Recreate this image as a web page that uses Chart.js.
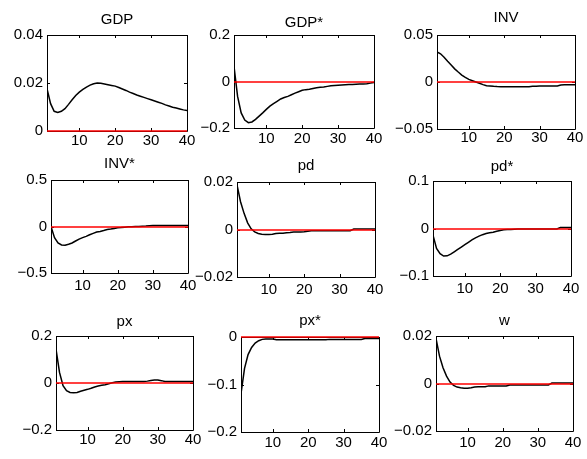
<!DOCTYPE html>
<html>
<head>
<meta charset="utf-8">
<script src="https://cdn.jsdelivr.net/npm/chart.js@4/dist/chart.umd.min.js"></script>
<style>
  body { margin: 0; background: #fff; }
  #grid { position: relative; width: 587px; height: 459px; overflow: hidden; }
  #grid canvas { position: absolute; }
</style>
</head>
<body>
<div id="grid"></div>
<script>
// horizon (quarters after the shock)
const periods = [1, 2, 3, 4, 5, 6, 7, 8, 9, 10, 11, 12, 13, 14, 15, 16, 17, 18, 19, 20,
                 21, 22, 23, 24, 25, 26, 27, 28, 29, 30, 31, 32, 33, 34, 35, 36, 37, 38, 39, 40];

const titles = ['GDP', 'GDP*', 'INV', 'INV*', 'pd', 'pd*', 'px', 'px*', 'w'];

// impulse responses
const gdp = [0.0176, 0.0114, 0.0082, 0.0077, 0.0082, 0.0093, 0.0111, 0.0130, 0.0148, 0.0162,
             0.0173, 0.0183, 0.0191, 0.0197, 0.0200, 0.0199, 0.0196, 0.0193, 0.0190, 0.0187,
             0.0181, 0.0175, 0.0169, 0.0162, 0.0156, 0.0150, 0.0145, 0.0140, 0.0135, 0.0130,
             0.0125, 0.0120, 0.0115, 0.0109, 0.0104, 0.0099, 0.0096, 0.0092, 0.0088, 0.0085];
const gdpStar = [0.065, -0.064, -0.135, -0.166, -0.177, -0.174, -0.163, -0.149, -0.135, -0.120,
                 -0.106, -0.095, -0.085, -0.075, -0.069, -0.064, -0.057, -0.050, -0.044, -0.038,
                 -0.035, -0.033, -0.030, -0.027, -0.025, -0.024, -0.021, -0.018, -0.017, -0.016,
                 -0.015, -0.014, -0.013, -0.013, -0.012, -0.011, -0.011, -0.010, -0.007, -0.004];
const inv = [0.0320, 0.0300, 0.0264, 0.0220, 0.0180, 0.0140, 0.0106, 0.0074, 0.0049, 0.0028,
             0.0014, 0.0000, -0.0014, -0.0028, -0.0039, -0.0042, -0.0046, -0.0049, -0.0050, -0.0050,
             -0.0050, -0.0050, -0.0050, -0.0050, -0.0050, -0.0050, -0.0050, -0.0046, -0.0044, -0.0042,
             -0.0042, -0.0042, -0.0042, -0.0042, -0.0042, -0.0032, -0.0030, -0.0030, -0.0030, -0.0030];
const invStar = [0.000, -0.120, -0.177, -0.199, -0.202, -0.190, -0.177, -0.156, -0.135, -0.120,
                 -0.106, -0.089, -0.074, -0.060, -0.053, -0.043, -0.032, -0.028, -0.021, -0.014,
                 -0.011, -0.007, -0.004, -0.002, 0.000, 0.001, 0.003, 0.005, 0.008, 0.010,
                 0.010, 0.010, 0.010, 0.010, 0.010, 0.010, 0.010, 0.010, 0.010, 0.010];
const pd = [0.0188, 0.0117, 0.0068, 0.0028, 0.0003, -0.0010, -0.0017, -0.0020, -0.0021, -0.0021,
            -0.0020, -0.0017, -0.0016, -0.0016, -0.0014, -0.0013, -0.0011, -0.0010, -0.0010, -0.0009,
            -0.0007, -0.0005, -0.0005, -0.0005, -0.0005, -0.0005, -0.0005, -0.0005, -0.0005, -0.0005,
            -0.0005, -0.0005, -0.0005, 0.0002, 0.0002, 0.0002, 0.0002, 0.0002, 0.0002, 0.0002];
const pdStar = [-0.0140, -0.0420, -0.0530, -0.0580, -0.0575, -0.0540, -0.0490, -0.0440, -0.0390, -0.0340,
                -0.0290, -0.0240, -0.0196, -0.0160, -0.0130, -0.0105, -0.0090, -0.0077, -0.0056, -0.0042,
                -0.0028, -0.0020, -0.0020, -0.0015, -0.0010, -0.0010, -0.0010, -0.0010, -0.0010, -0.0010,
                -0.0010, -0.0010, -0.0010, -0.0010, -0.0010, -0.0010, 0.0020, 0.0020, 0.0020, 0.0020];
const px = [0.1440, 0.0450, -0.0110, -0.0325, -0.0400, -0.0410, -0.0400, -0.0350, -0.0310, -0.0270,
            -0.0226, -0.0170, -0.0127, -0.0100, -0.0070, -0.0030, 0.0014, 0.0040, 0.0057, 0.0060,
            0.0060, 0.0060, 0.0060, 0.0060, 0.0060, 0.0060, 0.0080, 0.0110, 0.0127, 0.0127,
            0.0100, 0.0060, 0.0060, 0.0060, 0.0060, 0.0060, 0.0060, 0.0060, 0.0060, 0.0060];
const pxStar = [-0.1190, -0.0660, -0.0370, -0.0220, -0.0127, -0.0078, -0.0050, -0.0040, -0.0040, -0.0040,
                -0.0057, -0.0057, -0.0057, -0.0057, -0.0057, -0.0057, -0.0057, -0.0057, -0.0057, -0.0057,
                -0.0057, -0.0057, -0.0057, -0.0057, -0.0057, -0.0050, -0.0050, -0.0050, -0.0050, -0.0050,
                -0.0050, -0.0050, -0.0050, -0.0050, -0.0050, -0.0030, -0.0030, -0.0030, -0.0030, -0.0030];
const w = [0.0190, 0.0115, 0.0066, 0.0031, 0.0006, -0.0008, -0.0015, -0.0018, -0.0020, -0.0020,
           -0.0018, -0.0015, -0.0014, -0.0014, -0.0014, -0.0010, -0.0010, -0.0010, -0.0010, -0.0010,
           -0.0010, -0.0006, -0.0006, -0.0006, -0.0006, -0.0006, -0.0006, -0.0006, -0.0006, -0.0006,
           -0.0006, -0.0006, -0.0006, 0.0002, 0.0002, 0.0002, 0.0002, 0.0002, 0.0002, 0.0002];

const responses = [gdp, gdpStar, inv, invStar, pd, pdStar, px, pxStar, w];

// steady-state reference level drawn in red
const baseline = 0;

// axis limits and tick labels
const yLimits = [[0, 0.04], [-0.2, 0.2], [-0.05, 0.05],
                 [-0.5, 0.5], [-0.02, 0.02], [-0.1, 0.1],
                 [-0.2, 0.2], [-0.2, 0], [-0.02, 0.02]];
const yTickValues = [[0, 0.02, 0.04], [-0.2, 0, 0.2], [-0.05, 0, 0.05],
                     [-0.5, 0, 0.5], [-0.02, 0, 0.02], [-0.1, 0, 0.1],
                     [-0.2, 0, 0.2], [-0.2, -0.1, 0], [-0.02, 0, 0.02]];
const xTickValues = [10, 20, 30, 40];

// plot boxes on the page: left, top, right, bottom, title baseline, x-label gap
const boxes = [
  [47, 35, 187, 131, 24, 1], [234, 35, 374, 128, 27, 2], [437, 35, 575, 129, 22, 0],
  [51, 180, 188, 273, 168, 4], [237, 182, 375, 277, 170, 4], [433, 181, 571, 276, 171, 4],
  [56, 336, 193, 430, 326, 1], [241, 337, 379, 432, 325, 2], [436, 336, 573, 431, 325, 3]
];

const FONT = { family: '"Liberation Sans", Arial, Helvetica, sans-serif', size: 15 };
const PAD_LEFT = 50, PAD_TOP = 36, PAD_RIGHT = 16, PAD_BOTTOM = 26;
const TICK_LEN = 3;

function fmt(v) {
  if (v === 0) return '0';
  return String(v).replace('-', '\u2212');
}

// MATLAB-like box with inward ticks on all four sides, red reference line, panel title
const boxAxes = {
  id: 'boxAxes',
  beforeDatasetsDraw(chart) {
    const { ctx, chartArea: a, scales } = chart;
    ctx.save();
    ctx.strokeStyle = '#000';
    ctx.lineWidth = 1;
    ctx.beginPath();
    ctx.rect(Math.round(a.left) + 0.5, Math.round(a.top) + 0.5,
             Math.round(a.right - a.left), Math.round(a.bottom - a.top));
    scales.x.ticks.forEach(t => {
      const x = Math.round(scales.x.getPixelForValue(t.value)) + 0.5;
      ctx.moveTo(x, a.bottom); ctx.lineTo(x, a.bottom - TICK_LEN);
      ctx.moveTo(x, a.top); ctx.lineTo(x, a.top + TICK_LEN);
    });
    scales.y.ticks.forEach(t => {
      const y = Math.round(scales.y.getPixelForValue(t.value)) + 0.5;
      ctx.moveTo(a.left, y); ctx.lineTo(a.left + TICK_LEN, y);
      ctx.moveTo(a.right, y); ctx.lineTo(a.right - TICK_LEN, y);
    });
    ctx.stroke();
    ctx.restore();
  },
  afterDatasetsDraw(chart) {
    const { ctx, scales } = chart;
    const y = Math.round(scales.y.getPixelForValue(baseline));
    ctx.save();
    ctx.strokeStyle = '#ff0000';
    ctx.lineWidth = 1.4;
    ctx.beginPath();
    ctx.moveTo(scales.x.getPixelForValue(periods[0]), y);
    ctx.lineTo(scales.x.getPixelForValue(periods[periods.length - 1]), y);
    ctx.stroke();
    ctx.restore();
  },
  afterDraw(chart) {
    const o = chart.options.plugins.boxAxes;
    const { ctx, chartArea: a } = chart;
    ctx.save();
    ctx.fillStyle = '#000';
    ctx.font = FONT.size + 'px ' + FONT.family;
    ctx.textAlign = 'center';
    ctx.textBaseline = 'alphabetic';
    ctx.fillText(o.title, (a.left + a.right) / 2, a.top - o.titleGap);
    ctx.restore();
  }
};

const grid = document.getElementById('grid');

responses.forEach((series, i) => {
  const [l, t, r, b, titleY, xGap] = boxes[i];
  const canvas = document.createElement('canvas');
  canvas.width = (r - l) + PAD_LEFT + PAD_RIGHT;
  canvas.height = (b - t) + PAD_TOP + PAD_BOTTOM;
  canvas.style.left = (l - PAD_LEFT) + 'px';
  canvas.style.top = (t - PAD_TOP) + 'px';
  grid.appendChild(canvas);

  new Chart(canvas, {
    type: 'line',
    data: {
      datasets: [{
        data: periods.map((p, k) => ({ x: p, y: series[k] })),
        borderColor: '#000',
        borderWidth: 1.5,
        pointRadius: 0,
        tension: 0
      }]
    },
    options: {
      responsive: false,
      animation: false,
      events: [],
      layout: { padding: { top: PAD_TOP, right: PAD_RIGHT, left: 0, bottom: 0 } },
      plugins: {
        legend: { display: false },
        tooltip: { enabled: false },
        boxAxes: { title: titles[i], titleGap: t - titleY }
      },
      scales: {
        x: {
          type: 'linear',
          min: periods[0],
          max: periods[periods.length - 1],
          grid: { display: false, drawTicks: false },
          border: { display: false },
          ticks: { font: FONT, color: '#000', padding: xGap, maxRotation: 0, autoSkip: false },
          afterBuildTicks: s => { s.ticks = xTickValues.map(v => ({ value: v })); },
          afterFit: s => { s.height = PAD_BOTTOM; }
        },
        y: {
          type: 'linear',
          min: yLimits[i][0],
          max: yLimits[i][1],
          grid: { display: false, drawTicks: false },
          border: { display: false },
          ticks: { font: FONT, color: '#000', padding: 4, callback: v => fmt(v) },
          afterBuildTicks: s => { s.ticks = yTickValues[i].map(v => ({ value: v })); },
          afterFit: s => { s.width = PAD_LEFT; }
        }
      }
    },
    plugins: [boxAxes]
  });
});
</script>
</body>
</html>
